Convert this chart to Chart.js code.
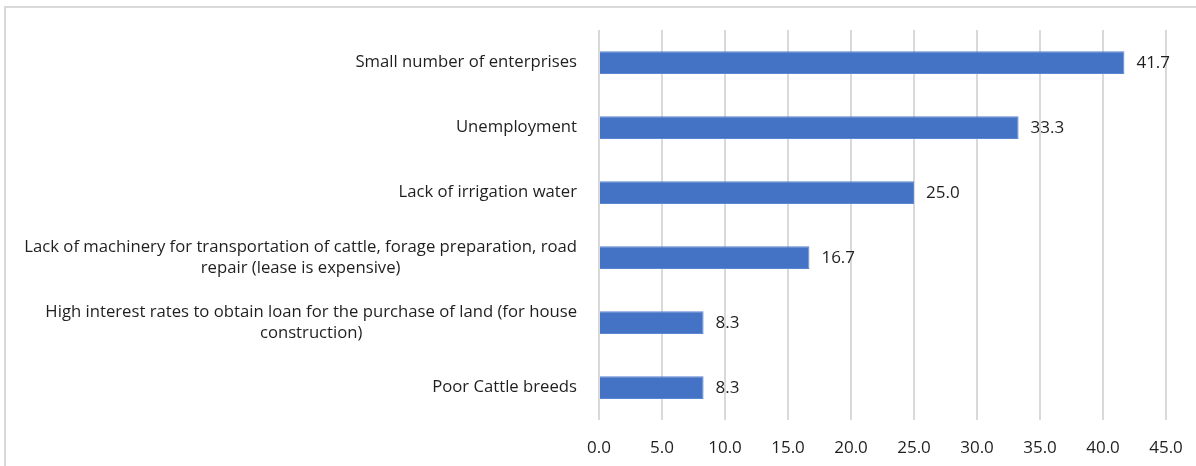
<!DOCTYPE html>
<html>
<head>
<meta charset="utf-8">
<script src="https://cdn.jsdelivr.net/npm/chart.js@4"></script>
<style>
  html, body { margin: 0; padding: 0; background: #fff; }
  #wrap { position: relative; width: 1196px; height: 466px; overflow: hidden; }
  #frame { position: absolute; left: 4px; top: 6px; width: 1300px; height: 600px;
           border-left: 2px solid #d9d9d9; border-top: 2px solid #d9d9d9; }
  #myChart { position: absolute; left: 0; top: 0; }
</style>
</head>
<body>
<div id="wrap">
  <div id="frame"></div>
  <canvas id="myChart" width="1196" height="466"></canvas>
</div>
<script>
const ctx = document.getElementById('myChart');

// categories (each one split into its lines as in the picture)
const labels = [
  ['Small number of enterprises'],
  ['Unemployment'],
  ['Lack of irrigation water'],
  ['Lack of machinery for transportation of cattle, forage preparation, road', 'repair (lease is expensive)'],
  ['High interest rates to obtain loan for the purchase of land (for house', 'construction)'],
  ['Poor Cattle breeds']
];
const values = [41.7, 33.3, 25.0, 16.7, 8.3, 8.3];
const xTicks = [0, 5, 10, 15, 20, 25, 30, 35, 40, 45];

const FONT = '"Open Sans", Lato, sans-serif';
const TEXT = '#1f1f1f';

// bar value labels, to the right of each bar
const valueLabels = {
  id: 'valueLabels',
  afterDatasetsDraw(chart) {
    const c = chart.ctx;
    const meta = chart.getDatasetMeta(0);
    c.save();
    c.font = '17px ' + FONT;
    c.fillStyle = TEXT;
    c.textAlign = 'left';
    c.textBaseline = 'middle';
    meta.data.forEach((bar, i) => {
      c.fillText(values[i].toFixed(1), bar.x + 12, bar.y + 1);
    });
    c.restore();
  }
};

// category labels: block right-aligned to the axis, lines centred inside it
const catLabels = {
  id: 'catLabels',
  afterDraw(chart) {
    const c = chart.ctx;
    const y = chart.scales.y;
    const right = chart.chartArea.left - 22;
    const lh = 21.5;
    c.save();
    c.font = '16.7px ' + FONT;
    c.fillStyle = TEXT;
    c.textAlign = 'center';
    c.textBaseline = 'middle';
    labels.forEach((lines, i) => {
      const w = Math.max(...lines.map(s => c.measureText(s).width));
      const cx = right - w / 2;
      const cy = y.getPixelForValue(i);
      lines.forEach((s, k) => {
        c.fillText(s, cx, cy + (k - (lines.length - 1) / 2) * lh);
      });
    });
    c.restore();
  }
};

const data = {
  labels: labels,
  datasets: [{
    data: values,
    backgroundColor: '#4472c4',
    borderColor: '#5b86d2',
    borderWidth: 1,
    barPercentage: 0.35,
    categoryPercentage: 1.0
  }]
};

const config = {
  type: 'bar',
  data: data,
  plugins: [valueLabels, catLabels],
  options: {
    indexAxis: 'y',
    responsive: false,
    animation: false,
    layout: { padding: { top: 30, right: 30, bottom: 0, left: 0 } },
    scales: {
      x: {
        min: xTicks[0],
        max: xTicks[xTicks.length - 1],
        afterBuildTicks: (s) => { s.ticks = xTicks.map(v => ({ value: v })); },
        ticks: {
          callback: v => Number(v).toFixed(1),
          font: { family: FONT, size: 17 },
          color: TEXT,
          padding: 18,
          maxRotation: 0
        },
        grid: { color: '#d9d9d9', lineWidth: 2, drawTicks: false },
        border: { display: false },
        afterFit: (s) => { s.height = 46; s.paddingLeft = 0; s.paddingRight = 0; }
      },
      y: {
        ticks: { display: false },
        grid: { display: false },
        border: { display: false },
        afterFit: (s) => { s.width = 599; }
      }
    },
    plugins: {
      legend: { display: false },
      tooltip: { enabled: false }
    }
  }
};

const myChart = new Chart(ctx, config);
</script>
</body>
</html>
